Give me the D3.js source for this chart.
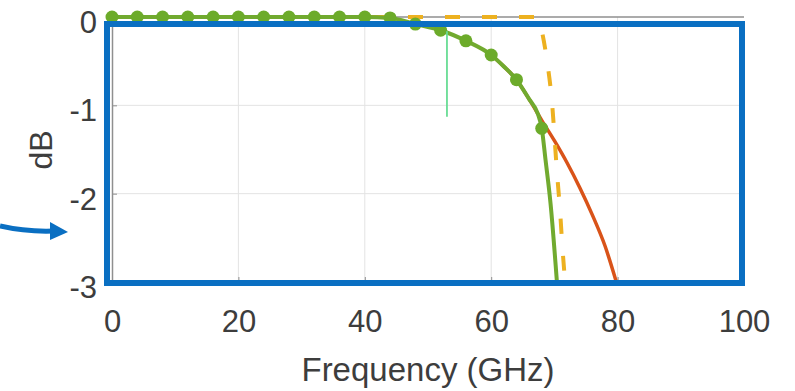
<!DOCTYPE html>
<html>
<head>
<meta charset="utf-8">
<script src="https://cdn.jsdelivr.net/npm/d3@7"></script>
<style>
    body { margin: 0; background: #fff; }
    svg { display: block; font-family: "Liberation Sans", Arial, sans-serif; }
</style>
</head>
<body>
<svg id="chart"></svg>
<script>
// x ticks / y ticks
const freqTicks = [0, 20, 40, 60, 80, 100];
const dbTicks = [0, -1, -2, -3];

// green measured response (markers every 4 GHz)
const markerFreq = [0, 4, 8, 12, 16, 20, 24, 28, 32, 36, 40, 44, 48, 52, 56, 60, 64, 68];
const markerDb = [0, 0, 0, 0, 0, 0, 0, 0, 0, 0, 0, -0.01, -0.08, -0.15, -0.27, -0.43, -0.71, -1.26];

// green line
const greenFreq = [0, 40, 44, 48, 52, 56, 60, 62, 64, 66, 67.4, 68, 68.6, 69.4, 70.4];
const greenDb = [0, 0, -0.01, -0.08, -0.15, -0.27, -0.43, -0.56, -0.71, -0.93, -1.1, -1.26, -1.62, -2.12, -3.0];

// red fitted line
const redFreq = [60, 62, 64, 66, 68, 70, 72, 74, 76, 78, 79.8];
const redDb = [-0.43, -0.56, -0.71, -0.93, -1.17, -1.4, -1.65, -1.93, -2.24, -2.59, -3.0];

// yellow dashed line
const yellowFreq = [0, 67.3, 67.8, 68.8, 69.6, 70.4, 70.9, 71.3, 71.7];
const yellowDb = [0, 0, -0.1, -0.48, -0.95, -1.75, -2.2, -2.64, -3.0];

// thin marker line
const cutFreq = [53, 53];
const cutDb = [-0.16, -1.13];

class rolloffChart {
    margin = {
        top: 17, right: 51, bottom: 109, left: 112
    }

    constructor(svg, width = 795, height = 391) {
        this.svg = svg;
        this.width = width;
        this.height = height;
    }

    initialize() {
        this.svg = d3.select(this.svg)
            .attr("width", this.width)
            .attr("height", this.height);

        this.innerW = this.width - this.margin.left - this.margin.right;
        this.innerH = this.height - this.margin.top - this.margin.bottom;

        this.xScale = d3.scaleLinear().domain([0, 100]).range([this.margin.left, this.margin.left + this.innerW]);
        this.yScale = d3.scaleLinear().domain([-3, 0]).range([this.margin.top + this.innerH, this.margin.top]);

        this.grid = this.svg.append("g");
        this.axes = this.svg.append("g");
        this.lines = this.svg.append("g");
        this.frame = this.svg.append("g");
    }

    update() {
        const x = this.xScale, y = this.yScale;
        const top = this.margin.top, bottom = this.margin.top + this.innerH;
        const left = this.margin.left, right = this.margin.left + this.innerW;

        // grid
        this.grid.selectAll(".vgrid")
            .data(freqTicks.slice(1, -1))
            .join("line")
            .attr("class", "vgrid")
            .attr("x1", d => x(d)).attr("x2", d => x(d))
            .attr("y1", top).attr("y2", bottom)
            .attr("stroke", "#e3e3e3").attr("stroke-width", 1);

        this.grid.selectAll(".hgrid")
            .data(dbTicks.slice(1, -1))
            .join("line")
            .attr("class", "hgrid")
            .attr("x1", left).attr("x2", right)
            .attr("y1", d => y(d)).attr("y2", d => y(d))
            .attr("stroke", "#e3e3e3").attr("stroke-width", 1);

        // axes
        const xAxis = this.axes.append("g")
            .attr("transform", `translate(0, ${bottom})`)
            .call(d3.axisBottom(x).tickValues(freqTicks).tickFormat(d => String(d))
                .tickSizeInner(-5).tickSizeOuter(0).tickPadding(28));
        const yAxis = this.axes.append("g")
            .attr("transform", `translate(${left}, 0)`)
            .call(d3.axisLeft(y).tickValues(dbTicks).tickFormat(d => String(d))
                .tickSizeInner(-5).tickSizeOuter(0).tickPadding(15));

        [xAxis, yAxis].forEach(a => {
            a.selectAll(".domain").attr("stroke", "#8f8f8f").attr("stroke-width", 1.5);
            a.selectAll(".tick line").attr("stroke", "#8f8f8f");
            a.selectAll("text")
                .attr("fill", "#3d3d3d")
                .style("font-size", "31px");
        });
        yAxis.selectAll("text").attr("dy", "0.5em");

        // top box line
        this.axes.append("line")
            .attr("x1", left).attr("x2", right)
            .attr("y1", top).attr("y2", top)
            .attr("stroke", "#8f8f8f").attr("stroke-width", 1.5);

        this.axes.append("text")
            .attr("x", (left + right) / 2)
            .attr("y", 381)
            .attr("text-anchor", "middle")
            .attr("fill", "#3d3d3d")
            .style("font-size", "33px")
            .text("Frequency (GHz)");

        this.axes.append("text")
            .attr("transform", `translate(52, 150) rotate(-90)`)
            .attr("text-anchor", "middle")
            .attr("fill", "#3d3d3d")
            .style("font-size", "32px")
            .text("dB");

        const line = d3.line()
            .x(d => x(d[0]))
            .y(d => y(d[1]))
            .curve(d3.curveMonotoneX);

        const zip = (a, b) => a.map((d, i) => [d, b[i]]);

        this.lines.append("path")
            .attr("d", line(zip(redFreq, redDb)))
            .attr("fill", "none").attr("stroke", "#d95319").attr("stroke-width", 3.5);

        this.lines.append("path")
            .attr("d", line(zip(yellowFreq, yellowDb)))
            .attr("fill", "none").attr("stroke", "#edb120").attr("stroke-width", 4)
            .attr("stroke-dasharray", "15,22");

        this.lines.append("path")
            .attr("d", line(zip(greenFreq, greenDb)))
            .attr("fill", "none").attr("stroke", "#71aa2f").attr("stroke-width", 4);

        this.lines.selectAll("circle")
            .data(zip(markerFreq, markerDb))
            .join("circle")
            .attr("cx", d => x(d[0]))
            .attr("cy", d => y(d[1]))
            .attr("r", 6.5)
            .attr("fill", "#6cab2a");

        this.lines.append("path")
            .attr("d", d3.line().x(d => x(d[0])).y(d => y(d[1]))(zip(cutFreq, cutDb)))
            .attr("stroke", "#68dc94").attr("stroke-width", 1.8);

        // blue highlight box + arrow
        this.frame.append("rect")
            .attr("x", left - 5).attr("y", top + 7)
            .attr("width", right - left + 3).attr("height", bottom - top - 6)
            .attr("fill", "none").attr("stroke", "#0a6fc2").attr("stroke-width", 6);

        this.frame.append("path")
            .attr("d", "M0,226 Q26,232 54,231")
            .attr("fill", "none").attr("stroke", "#0a6fc2").attr("stroke-width", 5);
        this.frame.append("path")
            .attr("d", "M50,222 L68,232 L50,240 Z")
            .attr("fill", "#0a6fc2");
    }
}

const chart = new rolloffChart("#chart");
chart.initialize();
chart.update();
</script>
</body>
</html>
